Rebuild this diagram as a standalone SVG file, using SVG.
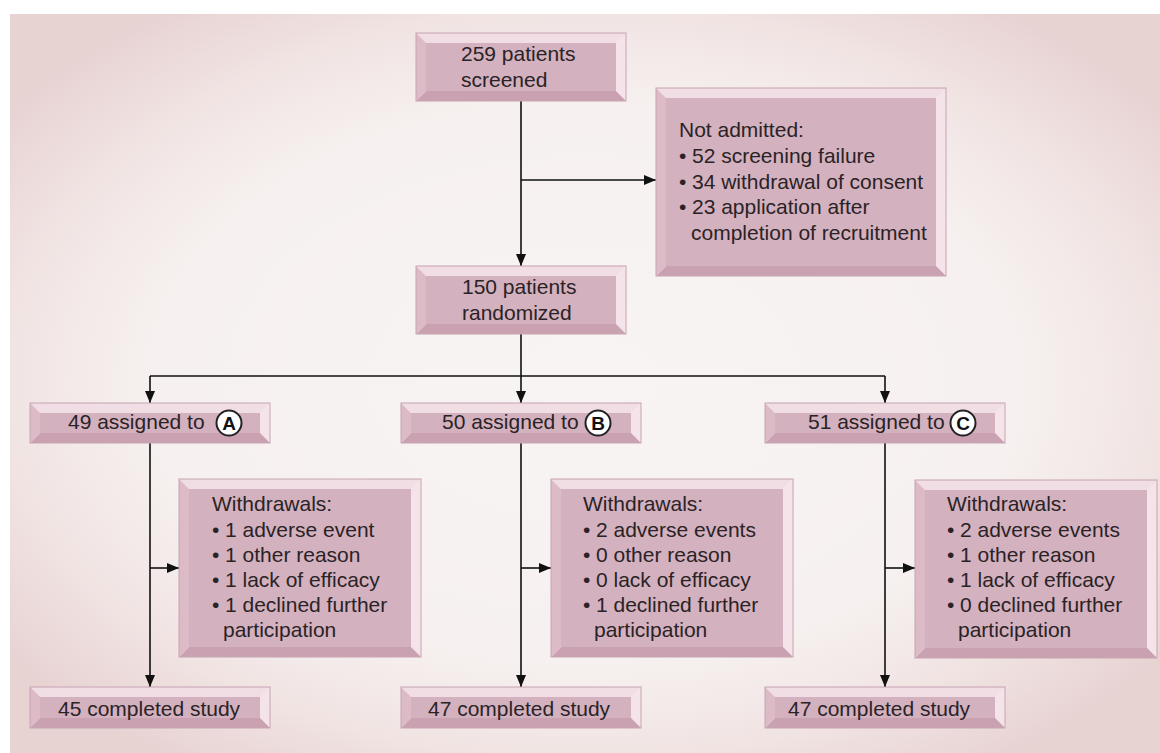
<svg xmlns="http://www.w3.org/2000/svg" width="1160" height="753" viewBox="0 0 1160 753">
<defs>
<radialGradient id="bg" cx="0.5" cy="0.5" r="0.62" gradientUnits="objectBoundingBox">
<stop offset="0" stop-color="#f8f4f3"/>
<stop offset="0.6" stop-color="#f6f1f0"/>
<stop offset="0.8" stop-color="#f1e5e4"/>
<stop offset="1" stop-color="#e8d3d3"/>
</radialGradient>
<marker id="ah" markerUnits="userSpaceOnUse" markerWidth="12" markerHeight="12" viewBox="0 0 12 12" refX="12" refY="6" orient="auto">
<path d="M0,1 L12,6 L0,11 z" fill="#111"/>
</marker>
</defs>
<style>
.r{fill:#f4e3e9}
.b{fill:#c9a1b0}
.l{fill:#dcbac6}
.top{fill:#f1dde4}
.in{fill:#d4b1be}
.edge{fill:none;stroke:#c6a4b1;stroke-width:1}
text{font-family:"Liberation Sans",Arial,sans-serif;font-size:21px;fill:#2a2326}
.ltr{font-size:19px;font-weight:bold;text-anchor:middle;fill:#111}
.circ{fill:#fff;stroke:#222;stroke-width:2}
.con line{stroke:#111;stroke-width:1.6;fill:none}
</style>
<rect x="0" y="0" width="1160" height="753" fill="#ffffff"/>
<rect x="10" y="14" width="1150" height="739" fill="url(#bg)"/>

<g class="con" id="connectors">
<line x1="521" y1="101" x2="521" y2="266" marker-end="url(#ah)"/>
<line x1="521" y1="180" x2="656" y2="180" marker-end="url(#ah)"/>
<line x1="521" y1="334" x2="521" y2="403" marker-end="url(#ah)"/>
<line x1="150" y1="376" x2="885" y2="376"/>
<line x1="150" y1="376" x2="150" y2="403" marker-end="url(#ah)"/>
<line x1="885" y1="376" x2="885" y2="403" marker-end="url(#ah)"/>
<line x1="150" y1="443" x2="150" y2="687" marker-end="url(#ah)"/>
<line x1="521" y1="443" x2="521" y2="687" marker-end="url(#ah)"/>
<line x1="885" y1="443" x2="885" y2="687" marker-end="url(#ah)"/>
<line x1="150" y1="568" x2="179" y2="568" marker-end="url(#ah)"/>
<line x1="521" y1="568" x2="551" y2="568" marker-end="url(#ah)"/>
<line x1="885" y1="568" x2="915" y2="568" marker-end="url(#ah)"/>
</g>

<g id="screened">
<polygon class="top" points="416,33 626,33 616,43 426,43"/>
<polygon class="r" points="626,33 626,101 616,91 616,43"/>
<polygon class="b" points="416,101 626,101 616,91 426,91"/>
<polygon class="l" points="416,33 426,43 426,91 416,101"/>
<rect class="in" x="426" y="43" width="190" height="48"/>
<rect class="edge" x="416" y="33" width="210" height="68"/>
<text x="461" y="61">259 patients</text>
<text x="461" y="87">screened</text>
</g>

<g id="not-admitted">
<polygon class="top" points="656,88 946,88 936,98 666,98"/>
<polygon class="r" points="946,88 946,276 936,266 936,98"/>
<polygon class="b" points="656,276 946,276 936,266 666,266"/>
<polygon class="l" points="656,88 666,98 666,266 656,276"/>
<rect class="in" x="666" y="98" width="270" height="168"/>
<rect class="edge" x="656" y="88" width="290" height="188"/>
<text x="679" y="137">Not admitted:</text>
<text x="679" y="163">•</text><text x="692" y="163">52 screening failure</text>
<text x="679" y="189">•</text><text x="692" y="189">34 withdrawal of consent</text>
<text x="679" y="214">•</text><text x="692" y="214">23 application after</text>
<text x="691" y="240">completion of recruitment</text>
</g>

<g id="randomized">
<polygon class="top" points="416,266 626,266 616,276 426,276"/>
<polygon class="r" points="626,266 626,334 616,324 616,276"/>
<polygon class="b" points="416,334 626,334 616,324 426,324"/>
<polygon class="l" points="416,266 426,276 426,324 416,334"/>
<rect class="in" x="426" y="276" width="190" height="48"/>
<rect class="edge" x="416" y="266" width="210" height="68"/>
<text x="462" y="294">150 patients</text>
<text x="462" y="320">randomized</text>
</g>

<g id="assigned-a">
<polygon class="top" points="30,403 270,403 260,413 40,413"/>
<polygon class="r" points="270,403 270,443 260,433 260,413"/>
<polygon class="b" points="30,443 270,443 260,433 40,433"/>
<polygon class="l" points="30,403 40,413 40,433 30,443"/>
<rect class="in" x="40" y="413" width="220" height="20"/>
<rect class="edge" x="30" y="403" width="240" height="40"/>
<text x="68" y="429">49 assigned to</text>
<circle class="circ" cx="229" cy="423" r="12.5"/>
<text class="ltr" x="229" y="430">A</text>
</g>

<g id="assigned-b">
<polygon class="top" points="401,403 641,403 631,413 411,413"/>
<polygon class="r" points="641,403 641,443 631,433 631,413"/>
<polygon class="b" points="401,443 641,443 631,433 411,433"/>
<polygon class="l" points="401,403 411,413 411,433 401,443"/>
<rect class="in" x="411" y="413" width="220" height="20"/>
<rect class="edge" x="401" y="403" width="240" height="40"/>
<text x="442" y="429">50 assigned to</text>
<circle class="circ" cx="598" cy="423" r="12.5"/>
<text class="ltr" x="598" y="430">B</text>
</g>

<g id="assigned-c">
<polygon class="top" points="765,403 1005,403 995,413 775,413"/>
<polygon class="r" points="1005,403 1005,443 995,433 995,413"/>
<polygon class="b" points="765,443 1005,443 995,433 775,433"/>
<polygon class="l" points="765,403 775,413 775,433 765,443"/>
<rect class="in" x="775" y="413" width="220" height="20"/>
<rect class="edge" x="765" y="403" width="240" height="40"/>
<text x="808" y="429">51 assigned to</text>
<circle class="circ" cx="963" cy="423" r="12.5"/>
<text class="ltr" x="963" y="430">C</text>
</g>

<g id="withdrawals-a">
<polygon class="top" points="179,479 421,479 411,489 189,489"/>
<polygon class="r" points="421,479 421,657 411,647 411,489"/>
<polygon class="b" points="179,657 421,657 411,647 189,647"/>
<polygon class="l" points="179,479 189,489 189,647 179,657"/>
<rect class="in" x="189" y="489" width="222" height="158"/>
<rect class="edge" x="179" y="479" width="242" height="178"/>
<text x="212" y="511">Withdrawals:</text>
<text x="212" y="537">•</text><text x="225" y="537">1 adverse event</text>
<text x="212" y="562">•</text><text x="225" y="562">1 other reason</text>
<text x="212" y="587">•</text><text x="225" y="587">1 lack of efficacy</text>
<text x="212" y="612">•</text><text x="225" y="612">1 declined further</text>
<text x="223" y="637">participation</text>
</g>

<g id="withdrawals-b">
<polygon class="top" points="551,479 793,479 783,489 561,489"/>
<polygon class="r" points="793,479 793,657 783,647 783,489"/>
<polygon class="b" points="551,657 793,657 783,647 561,647"/>
<polygon class="l" points="551,479 561,489 561,647 551,657"/>
<rect class="in" x="561" y="489" width="222" height="158"/>
<rect class="edge" x="551" y="479" width="242" height="178"/>
<text x="583" y="511">Withdrawals:</text>
<text x="583" y="537">•</text><text x="596" y="537">2 adverse events</text>
<text x="583" y="562">•</text><text x="596" y="562">0 other reason</text>
<text x="583" y="587">•</text><text x="596" y="587">0 lack of efficacy</text>
<text x="583" y="612">•</text><text x="596" y="612">1 declined further</text>
<text x="594" y="637">participation</text>
</g>

<g id="withdrawals-c">
<polygon class="top" points="915,480 1157,480 1147,490 925,490"/>
<polygon class="r" points="1157,480 1157,658 1147,648 1147,490"/>
<polygon class="b" points="915,658 1157,658 1147,648 925,648"/>
<polygon class="l" points="915,480 925,490 925,648 915,658"/>
<rect class="in" x="925" y="490" width="222" height="158"/>
<rect class="edge" x="915" y="480" width="242" height="178"/>
<text x="947" y="511">Withdrawals:</text>
<text x="947" y="537">•</text><text x="960" y="537">2 adverse events</text>
<text x="947" y="562">•</text><text x="960" y="562">1 other reason</text>
<text x="947" y="587">•</text><text x="960" y="587">1 lack of efficacy</text>
<text x="947" y="612">•</text><text x="960" y="612">0 declined further</text>
<text x="958" y="637">participation</text>
</g>

<g id="completed-a">
<polygon class="top" points="30,687 270,687 260,697 40,697"/>
<polygon class="r" points="270,687 270,728 260,718 260,697"/>
<polygon class="b" points="30,728 270,728 260,718 40,718"/>
<polygon class="l" points="30,687 40,697 40,718 30,728"/>
<rect class="in" x="40" y="697" width="220" height="21"/>
<rect class="edge" x="30" y="687" width="240" height="41"/>
<text x="58" y="716">45 completed study</text>
</g>

<g id="completed-b">
<polygon class="top" points="401,687 641,687 631,697 411,697"/>
<polygon class="r" points="641,687 641,728 631,718 631,697"/>
<polygon class="b" points="401,728 641,728 631,718 411,718"/>
<polygon class="l" points="401,687 411,697 411,718 401,728"/>
<rect class="in" x="411" y="697" width="220" height="21"/>
<rect class="edge" x="401" y="687" width="240" height="41"/>
<text x="428" y="716">47 completed study</text>
</g>

<g id="completed-c">
<polygon class="top" points="765,687 1005,687 995,697 775,697"/>
<polygon class="r" points="1005,687 1005,728 995,718 995,697"/>
<polygon class="b" points="765,728 1005,728 995,718 775,718"/>
<polygon class="l" points="765,687 775,697 775,718 765,728"/>
<rect class="in" x="775" y="697" width="220" height="21"/>
<rect class="edge" x="765" y="687" width="240" height="41"/>
<text x="788" y="716">47 completed study</text>
</g>
</svg>
